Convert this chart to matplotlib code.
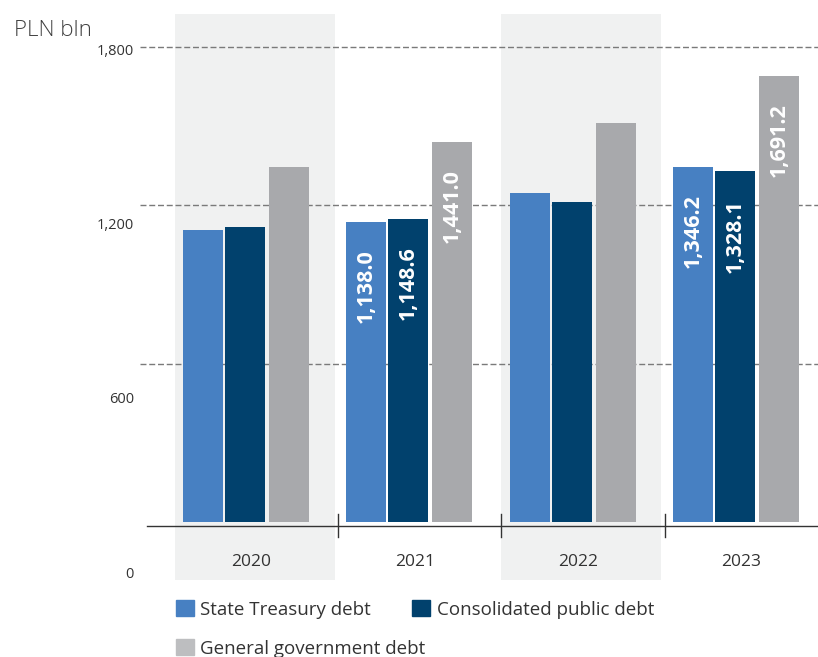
import matplotlib
matplotlib.use("Agg")
import matplotlib.pyplot as plt
from matplotlib.patches import Patch
import numpy as np

plt.rcParams['font.family'] = ['Open Sans', 'DejaVu Sans']

# Data (PLN bln)
years = ["2020", "2021", "2022", "2023"]
state_treasury = [1106.0, 1138.0, 1246.0, 1346.2]
consolidated = [1116.0, 1148.6, 1211.0, 1328.1]
general_gov = [1344.0, 1441.0, 1510.0, 1691.2]
labelled_years = ["2021", "2023"]
series_names = ["State Treasury debt", "Consolidated public debt", "General government debt"]
grid_values = [600, 1200, 1800]
tick_values = [0, 600, 1200, 1800]
shaded_years = ["2020", "2022"]

# Styling
c_st = "#4780c2"
c_cp = "#01416d"
c_gg = "#a8a9ac"
c_gg_legend = "#bdbec0"
c_band = "#f0f1f1"
c_text = "#333333"

W, H = 818, 657
fig = plt.figure(figsize=(W / 100, H / 100), dpi=100)

# axes box in pixels: left 140, right 818, top 14, bottom 526
ax_l, ax_r, ax_t, ax_b = 140, 818, 14, 526
ax = fig.add_axes([ax_l / W, (H - ax_b) / H, (ax_r - ax_l) / W, (ax_b - ax_t) / H])

ax.set_xlim(-0.643, 3.509)
ax.set_ylim(-15.15, 1924.2)

x = np.arange(len(years))
width = 0.245
offsets = [-0.257, 0.0, 0.27]
colors = [c_st, c_cp, c_gg]
series = [state_treasury, consolidated, general_gov]

# shaded year bands, extending down behind the year labels
for yr in shaded_years:
    i = years.index(yr)
    span = ax.axvspan(i - 0.43, i + 0.55, ymin=-0.1055, ymax=1.0,
                      color=c_band, lw=0, zorder=0)
    span.set_clip_on(False)

# dashed reference lines
for g in grid_values:
    ax.axhline(g, color="#7a7a7a", lw=1.0, ls=(0, (4.3, 2.0)), zorder=1)

# bars
for vals, off, col in zip(series, offsets, colors):
    ax.bar(x + off, vals, width=width, color=col, zorder=2, lw=0)

# value labels inside bars for selected years
for vals, off in zip(series, offsets):
    for yr in labelled_years:
        i = years.index(yr)
        v = vals[i]
        ax.text(i + off, v - 385, f"{v:,.1f}", rotation=90, ha="center", va="bottom",
                color="white", fontsize=15.5, fontweight="bold", zorder=3)

# spines & ticks
for s in ["top", "right", "left"]:
    ax.spines[s].set_visible(False)
ax.spines["bottom"].set_color(c_text)
ax.spines["bottom"].set_linewidth(1.0)
ax.spines["bottom"].set_bounds(-0.600, 3.509)
ax.set_xticks([])
ax.set_yticks([])

# group separators on the baseline
xt = ax.get_xaxis_transform()
for i in range(len(years) - 1):
    ax.plot([i + 0.57, i + 0.57], [0.0234, -0.0215], transform=xt,
            color=c_text, lw=1.0, clip_on=False, zorder=3)

# year labels
for i, yr in enumerate(years):
    ax.text(i + 0.04, -0.0703, yr, transform=xt, ha="center", va="center",
            fontsize=12.5, color=c_text)

# y value labels
yt = ax.get_yaxis_transform()
for t in tick_values:
    ypos = -196.97 + 1.0985 * t
    ax.text(-0.009, ypos, f"{t:,}", transform=yt, ha="right", va="center",
            fontsize=10.5, color=c_text, clip_on=False)

# unit label
fig.text(14 / W, 1 - 30 / H, "PLN bln", fontsize=16, color="#404040",
         fontweight="light", ha="left", va="center")

# legend
leg_kw = dict(frameon=False, fontsize=13.5, handlelength=0.95, handleheight=0.95,
              handletextpad=0.35, borderpad=0, borderaxespad=0, loc="upper left",
              labelcolor=c_text)
h1 = [Patch(color=c_st, label=series_names[0]), Patch(color=c_cp, label=series_names[1])]
fig.legend(handles=h1, ncol=2, columnspacing=2.2,
           bbox_to_anchor=(176 / W, 1 - 600 / H), **leg_kw)
h2 = [Patch(color=c_gg_legend, label=series_names[2])]
fig.legend(handles=h2, bbox_to_anchor=(176 / W, 1 - 639 / H), **leg_kw)

fig.savefig("out.png", dpi=100)
